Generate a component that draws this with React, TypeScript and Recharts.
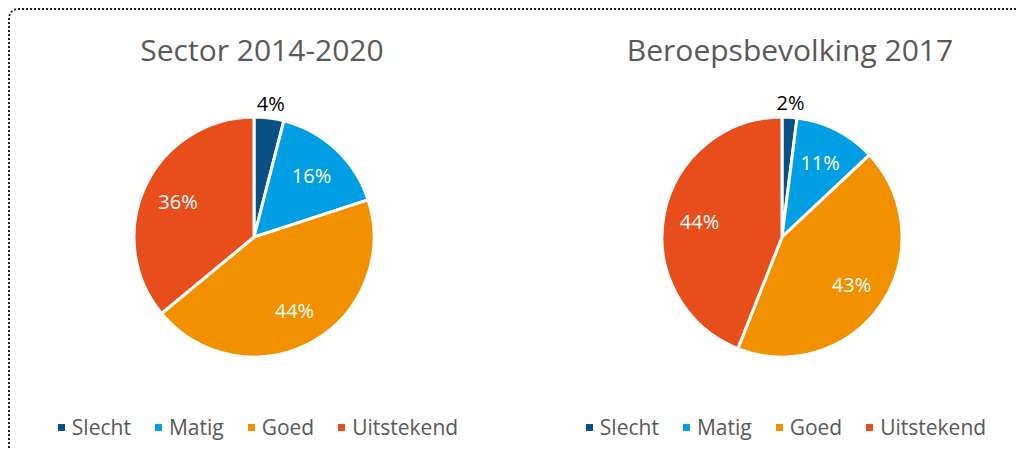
import { Legend, Pie, PieChart, Cell } from "recharts";

const categories = ["Slecht", "Matig", "Goed", "Uitstekend"];
const sectorValues = [4, 16, 44, 36];
const bevolkingValues = [2, 11, 43, 44];
const titles = ["Sector 2014-2020", "Beroepsbevolking 2017"];

const COLORS = ["#0a5084", "#009fe3", "#f29100", "#e84e1b"];
const FONT = "'Open Sans', 'Noto Sans', sans-serif";
const RAD = Math.PI / 180;

function renderLabel(props: any) {
  const { cx, cy, midAngle, outerRadius, value } = props;
  const small = value < 5;
  const r = small ? outerRadius * 1.12 : outerRadius * 0.7;
  const x = cx + r * Math.cos(-midAngle * RAD);
  const y = cy + r * Math.sin(-midAngle * RAD);
  return (
    <text
      x={x}
      y={y}
      fill={small ? "#000" : "#fff"}
      textAnchor="middle"
      dominantBaseline="central"
      fontSize={20}
      fontFamily={FONT}
    >
      {`${value}%`}
    </text>
  );
}

function LegendRow() {
  return (
    <div style={{ display: "flex", justifyContent: "center", gap: 24, fontFamily: FONT, fontSize: 21, color: "#595959" }}>
      {categories.map((c, i) => (
        <span key={c} style={{ display: "flex", alignItems: "center" }}>
          <span style={{ width: 7, height: 7, background: COLORS[i], marginRight: 7, display: "inline-block" }} />
          {c}
        </span>
      ))}
    </div>
  );
}

function SinglePie({ title, values }: { title: string; values: number[] }) {
  const rows = categories.map((name, i) => ({ name, value: values[i] }));
  return (
    <div style={{ position: "relative", width: 508, height: 442 }}>
      <div
        style={{
          position: "absolute",
          top: 21,
          left: 0,
          width: 508,
          textAlign: "center",
          fontFamily: FONT,
          fontSize: 30,
          color: "#595959",
        }}
      >
        {title}
      </div>
      <PieChart
        width={508}
        height={442}
        margin={{ top: 0, right: 0, bottom: 0, left: 0 }}
        style={{ position: "absolute", top: 0, left: 0 }}
      >
        <Pie
          data={rows}
          dataKey="value"
          nameKey="name"
          cx={246}
          cy={229}
          outerRadius={120}
          startAngle={90}
          endAngle={-270}
          stroke="#fff"
          strokeWidth={3}
          label={renderLabel}
          labelLine={false}
          isAnimationActive={false}
        >
          {rows.map((r, i) => (
            <Cell key={r.name} fill={COLORS[i]} />
          ))}
        </Pie>
        <Legend
          content={() => <LegendRow />}
          wrapperStyle={{ left: 0, width: 500, top: 405, bottom: "auto" }}
        />
      </PieChart>
    </div>
  );
}

export default function App() {
  return (
    <div style={{ position: "relative", width: 1017, height: 442, overflow: "hidden", background: "#fff" }}>
      <div
        style={{
          position: "absolute",
          left: 0,
          top: 0,
          width: 1040,
          height: 470,
          border: "2px dotted #222",
          borderTopLeftRadius: 10,
          boxSizing: "border-box",
        }}
      />
      <div style={{ position: "absolute", left: 0, top: 0 }}>
        <SinglePie title={titles[0]} values={sectorValues} />
      </div>
      <div style={{ position: "absolute", left: 528, top: 0 }}>
        <SinglePie title={titles[1]} values={bevolkingValues} />
      </div>
    </div>
  );
}
